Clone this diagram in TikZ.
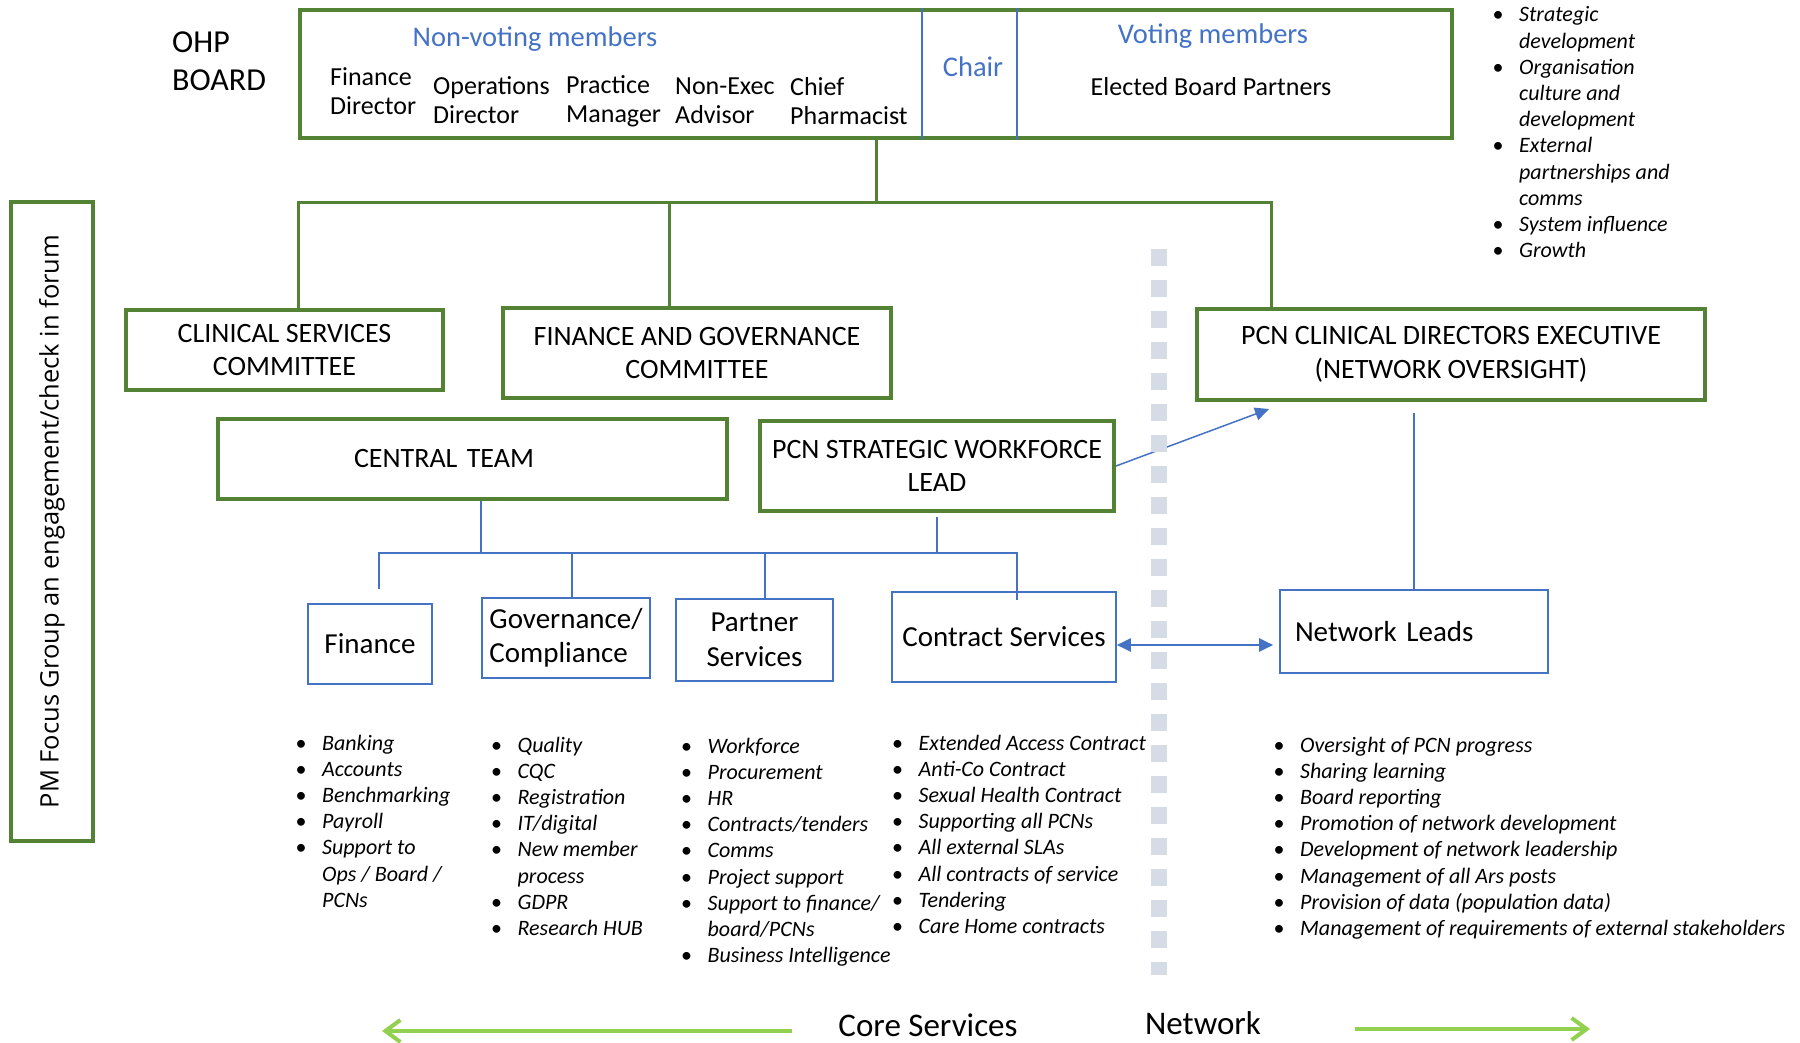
\documentclass[tikz,border=0pt]{standalone}
\usepackage{fontspec}
\setmainfont{Carlito}
\newfontfamily\opensans{Open Sans}
\usepackage{xcolor}
\usepackage{tikz}
\usetikzlibrary{positioning, calc, arrows.meta}

\definecolor{boardgreen}{RGB}{84,130,53}
\definecolor{officeblue}{RGB}{68,114,196}
\definecolor{sepgrey}{RGB}{214,220,229}
\definecolor{limegreen}{RGB}{146,208,80}

\begin{document}
\begin{tikzpicture}[x=1pt, y=-1pt]

	\tikzstyle{greenbox}=[draw=boardgreen, line width=4pt, inner sep=0pt, align=center, font=\fontsize{28}{33.5}\selectfont]
	\tikzstyle{bluebox}=[draw=officeblue, line width=1.6pt, inner sep=0pt, align=center, font=\fontsize{29}{34.5}\selectfont]
	\tikzstyle{greenline}=[draw=boardgreen, line width=3pt]
	\tikzstyle{blueline}=[draw=officeblue, line width=2pt]
	\tikzstyle{bluehead}=[inner sep=0pt, text=officeblue, font=\fontsize{28.5}{34}\selectfont]
	\tikzstyle{member}=[anchor=west, align=left, inner sep=0pt, font=\fontsize{26}{29}\selectfont]
	\tikzstyle{bullets}=[anchor=base west, inner sep=0pt, font=\itshape\fontsize{22}{26.2}\selectfont]
	\tikzstyle{limearrow}=[draw=limegreen, line width=4pt, -{Straight Barb[length=15pt, width=22pt]}]

	\useasboundingbox (0,0) rectangle (1800,1043);

	%% board
	\node (board) at (876,74) [greenbox, minimum width=1152, minimum height=128] {};
	\draw [blueline, line width=1.5pt] (922,0 |- board.north) -- (922,0 |- board.south);
	\draw [blueline, line width=1.5pt] (1017,0 |- board.north) -- (1017,0 |- board.south);

	\node (ohp) at (172,61) [anchor=west, align=left, inner sep=0pt, font=\fontsize{32}{38}\selectfont] {OHP\\BOARD};
	\node (nonvoting) at (535,39) [bluehead] {Non-voting members};
	\node (findir) at (330,91) [member] {Finance\\Director};
	\node (opsdir) at (433,100) [member] {Operations\\Director};
	\node (pracman) at (566,101) [member] {Practice\\Manager};
	\node (nonexec) at (675,101) [member] {Non-Exec\\Advisor};
	\node (chiefpharm) at (790,101) [member] {Chief\\Pharmacist};
	\node (chair) at (973,67) [bluehead] {Chair};
	\node (voting) at (1213,36) [bluehead] {Voting members};
	\node (elected) at (1211,87) [inner sep=0pt, font=\fontsize{26}{30}\selectfont] {Elected Board Partners};

	\node (boardlist) at (1492.5,22) [bullets] {\begin{tabular}[t]{@{}l@{\hspace{15.5pt}}l@{}}
		\textup{\textbullet} & Strategic\\ & development\\
		\textup{\textbullet} & Organisation\\ & culture and\\ & development\\
		\textup{\textbullet} & External\\ & partnerships and\\ & comms\\
		\textup{\textbullet} & System influence\\
		\textup{\textbullet} & Growth
	\end{tabular}};

	%% side forum
	\node (pmfocus) at (52,521.5) [draw=boardgreen, line width=4pt, rotate=90, minimum width=639, minimum height=82, inner sep=0pt, font=\opensans\fontsize{25.5}{30}\selectfont] {PM Focus Group an engagement/check in forum};

	%% committees
	\node (clinical) at (284.5,350) [greenbox, minimum width=317, minimum height=80] {CLINICAL SERVICES\\COMMITTEE};
	\node (fgc) at (697,353) [greenbox, minimum width=388, minimum height=90] {FINANCE AND GOVERNANCE\\COMMITTEE};
	\node (pcncde) at (1451,354.5) [greenbox, minimum width=508, minimum height=91] {PCN CLINICAL DIRECTORS EXECUTIVE\\(NETWORK OVERSIGHT)};
	\node (central) at (472.5,459) [greenbox, minimum width=509, minimum height=80, text width=237, align=left] {CENTRAL TEAM};
	\node (swl) at (937,466) [greenbox, minimum width=354, minimum height=90] {PCN STRATEGIC WORKFORCE\\LEAD};

	\coordinate (bus) at (876,203);
	\coordinate (busL) at (298,203);
	\coordinate (busM) at (669,203);
	\coordinate (busR) at (1271,203);

	\draw [greenline] (board.south) -- (bus);
	\draw [greenline] (busL |- clinical.north) -- (busL) -- (busR) -- (busR |- pcncde.north);
	\draw [greenline] (busM) -- (busM |- fgc.north);

	%% services
	\node (finance) at (370,644) [bluebox, minimum width=124, minimum height=80] {Finance};
	\node (gov) at (566,638) [bluebox, minimum width=168, minimum height=80, align=left] {Governance/\\Compliance};
	\node (partner) at (754.5,640) [bluebox, minimum width=157, minimum height=82] {Partner\\Services};
	\node (contract) at (1004,637) [bluebox, minimum width=224, minimum height=90] {Contract Services};
	\node (netleads) at (1414,631.5) [bluebox, minimum width=268, minimum height=83, text width=238, align=left] {Network Leads};

	\coordinate (bluebusL) at (379,553);
	\coordinate (bluebusR) at (1017,553);
	\coordinate (ctap) at (481,553);
	\coordinate (govtap) at (572,553);
	\coordinate (partnertap) at (765,553);

	\draw [blueline] (ctap |- central.south) -- (ctap);
	\draw [blueline] ($(swl.south)+(0,4)$) -- (swl.south |- bluebusL);
	\draw [blueline] ($(bluebusL)+(0,36)$) -- (bluebusL) -- (bluebusR) -- ($(bluebusR |- contract.north)+(0,9)$);
	\draw [blueline] (govtap) -- (govtap |- gov.north);
	\draw [blueline] (partnertap) -- (partnertap |- partner.north);

	\draw [blueline] ($(pcncde.south -| netleads.north)+(0,11)$) -- (netleads.north);
	\draw [blueline, line width=1.5pt, -{Triangle[length=14pt, width=13pt]}] (swl.east) -- ($(pcncde.south west)+(74,7)$);
	\draw [blueline, {Triangle[length=14pt, width=13pt]}-{Triangle[length=14pt, width=13pt]}] ($(contract.east)+(0,8)$) -- ($(netleads.west)+(-6,13.5)$);

	%% core / network divide
	\draw [sepgrey, line width=16pt, dash pattern=on 17pt off 14pt] (1159,249) -- (1159,975);

	%% lists
	\node (financelist) at (295.5,750) [bullets] {\begin{tabular}[t]{@{}l@{\hspace{15.5pt}}l@{}}
		\textup{\textbullet} & Banking\\
		\textup{\textbullet} & Accounts\\
		\textup{\textbullet} & Benchmarking\\
		\textup{\textbullet} & Payroll\\
		\textup{\textbullet} & Support to\\ & Ops / Board /\\ & PCNs
	\end{tabular}};

	\node (govlist) at (491,752) [bullets] {\begin{tabular}[t]{@{}l@{\hspace{15.5pt}}l@{}}
		\textup{\textbullet} & Quality\\
		\textup{\textbullet} & CQC\\
		\textup{\textbullet} & Registration\\
		\textup{\textbullet} & IT/digital\\
		\textup{\textbullet} & New member\\ & process\\
		\textup{\textbullet} & GDPR\\
		\textup{\textbullet} & Research HUB
	\end{tabular}};

	\node (partnerlist) at (681,753) [bullets] {\begin{tabular}[t]{@{}l@{\hspace{15.5pt}}l@{}}
		\textup{\textbullet} & Workforce\\
		\textup{\textbullet} & Procurement\\
		\textup{\textbullet} & HR\\
		\textup{\textbullet} & Contracts/tenders\\
		\textup{\textbullet} & Comms\\
		\textup{\textbullet} & Project support\\
		\textup{\textbullet} & Support to finance/\\ & board/PCNs\\
		\textup{\textbullet} & Business Intelligence
	\end{tabular}};

	\node (contractlist) at (892,750) [bullets] {\begin{tabular}[t]{@{}l@{\hspace{15.5pt}}l@{}}
		\textup{\textbullet} & Extended Access Contract\\
		\textup{\textbullet} & Anti-Co Contract\\
		\textup{\textbullet} & Sexual Health Contract\\
		\textup{\textbullet} & Supporting all PCNs\\
		\textup{\textbullet} & All external SLAs\\
		\textup{\textbullet} & All contracts of service\\
		\textup{\textbullet} & Tendering\\
		\textup{\textbullet} & Care Home contracts
	\end{tabular}};

	\node (netlist) at (1273.5,752) [bullets] {\begin{tabular}[t]{@{}l@{\hspace{15.5pt}}l@{}}
		\textup{\textbullet} & Oversight of PCN progress\\
		\textup{\textbullet} & Sharing learning\\
		\textup{\textbullet} & Board reporting\\
		\textup{\textbullet} & Promotion of network development\\
		\textup{\textbullet} & Development of network leadership\\
		\textup{\textbullet} & Management of all Ars posts\\
		\textup{\textbullet} & Provision of data (population data)\\
		\textup{\textbullet} & Management of requirements of external stakeholders
	\end{tabular}};

	%% bottom
	\node (core) at (928,1025) [inner sep=0pt, font=\fontsize{33}{40}\selectfont] {Core Services};
	\node (network) at (1203,1023) [inner sep=0pt, font=\fontsize{33}{40}\selectfont] {Network};
	\coordinate (coreend) at (382,1031);
	\coordinate (netend) at (1590,1029);
	\draw [limearrow] ($(core.west)+(-46,6)$) -- (coreend);
	\draw [limearrow] ($(network.east)+(93.5,6)$) -- (netend);

\end{tikzpicture}
\end{document}
